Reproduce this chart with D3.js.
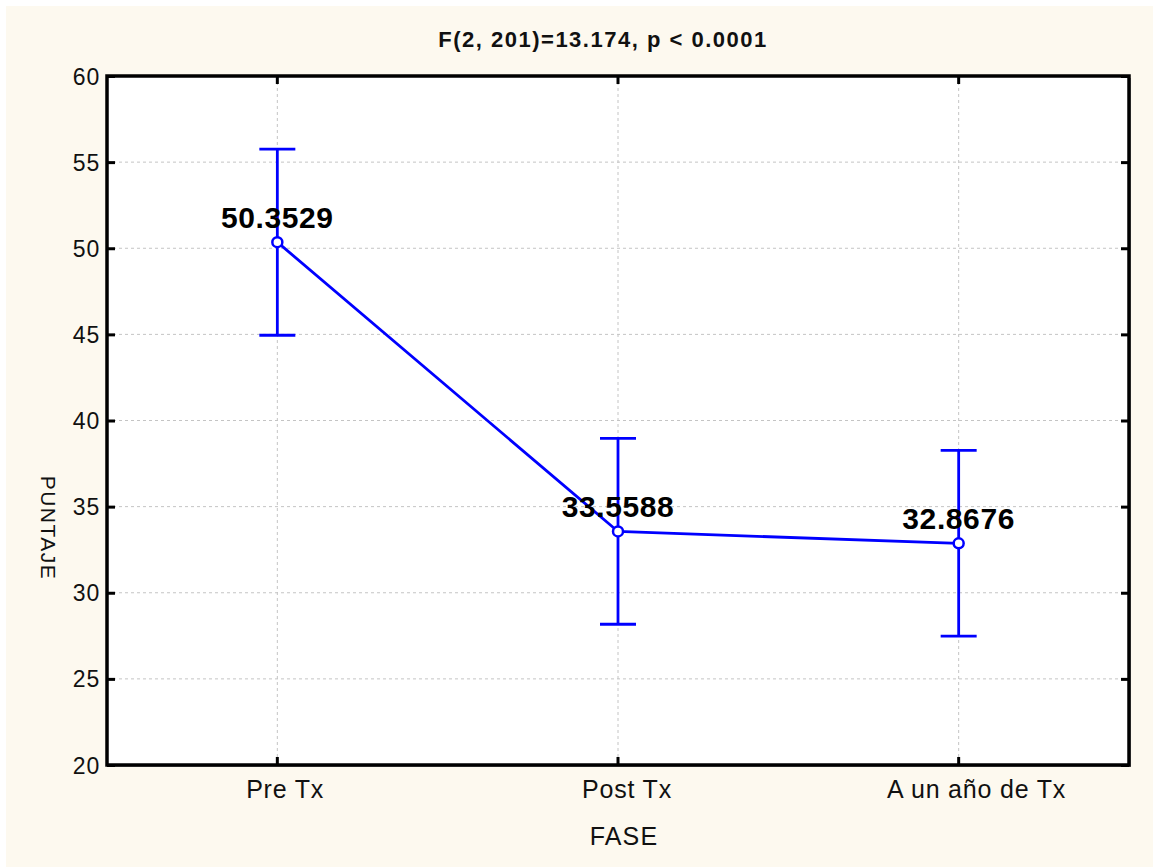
<!DOCTYPE html>
<html>
<head>
<meta charset="utf-8">
<script src="https://cdn.jsdelivr.net/npm/d3@7"></script>
<style>
  body { margin: 0; background: #fff; }
  text { font-family: Arial, "Liberation Sans", sans-serif; }
</style>
</head>
<body>
<div class="mainviz"></div>
<script>
var categories = ["Pre Tx", "Post Tx", "A un año de Tx"];
var means = [50.3529, 33.5588, 32.8676];
var upper = [55.76, 38.96, 38.27];
var lower = [44.95, 28.17, 27.48];
var yTicks = [20, 25, 30, 35, 40, 45, 50, 55, 60];
var title = "F(2, 201)=13.174, p < 0.0001";

var width = 1153, height = 867;
var margin = { top: 76, right: 24, bottom: 102, left: 107 };
var plotW = width - margin.left - margin.right,
	plotH = height - margin.top - margin.bottom;

var svg = d3.select(".mainviz").append("svg")
	.attr("width", width)
	.attr("height", height);

svg.append("rect")
	.attr("x", 6).attr("y", 6)
	.attr("width", width - 6).attr("height", height - 6)
	.attr("fill", "#fdf9ef");

var data = categories.map(function (c, i) {
	return { cat: c, mean: means[i], hi: upper[i], lo: lower[i] };
});

var x = d3.scaleBand()
	.domain(categories)
	.range([0, plotW]);

var y = d3.scaleLinear()
	.domain([20, 60])
	.range([plotH, 0]);

var g = svg.append("g")
	.attr("transform", "translate(" + margin.left + "," + margin.top + ")");

// shadow + plot background
g.append("rect")
	.attr("x", 2).attr("y", 2)
	.attr("width", plotW).attr("height", plotH)
	.attr("fill", "#9a9a9a");
g.append("rect")
	.attr("width", plotW).attr("height", plotH)
	.attr("fill", "#fff");

function cx(d) { return x(d.cat) + x.bandwidth() / 2; }

// grid lines
g.selectAll("line.hgrid")
	.data(yTicks.slice(1, -1))
	.enter().append("line")
	.attr("class", "hgrid")
	.attr("x1", 0).attr("x2", plotW)
	.attr("y1", function (d) { return y(d); })
	.attr("y2", function (d) { return y(d); })
	.attr("stroke", "#c4c4c4")
	.attr("stroke-dasharray", "3,3");

g.selectAll("line.vgrid")
	.data(data)
	.enter().append("line")
	.attr("class", "vgrid")
	.attr("x1", cx).attr("x2", cx)
	.attr("y1", 0).attr("y2", plotH)
	.attr("stroke", "#c4c4c4")
	.attr("stroke-dasharray", "3,3");

// axes, ticks pointing inward
var yAxisL = d3.axisLeft(y).tickValues(yTicks).tickSize(-8).tickPadding(7);
var yAxisR = d3.axisRight(y).tickValues(yTicks).tickSize(-8).tickFormat("");
var xAxisB = d3.axisBottom(x).tickSize(-8).tickPadding(15);
var xAxisT = d3.axisTop(x).tickSize(-8).tickFormat("");

function styleAxis(sel, fs) {
	sel.select(".domain").remove();
	sel.selectAll(".tick line").attr("stroke", "#000").attr("stroke-width", 3);
	sel.selectAll(".tick text")
		.attr("fill", "#111")
		.style("font-size", fs + "px")
		.style("letter-spacing", "0.8px");
}

g.append("g").call(yAxisL).call(styleAxis, 23);
g.append("g").attr("transform", "translate(" + plotW + ",0)").call(yAxisR).call(styleAxis, 23);
var xg = g.append("g").attr("transform", "translate(0," + plotH + ")").call(xAxisB).call(styleAxis, 25);
g.append("g").call(xAxisT).call(styleAxis, 25);

g.selectAll(".tick text").filter(function (d) { return typeof d === "number"; })
	.attr("dy", "0.35em");

// category labels sit a little right of their tick
xg.selectAll(".tick text")
	.attr("dx", function () { return this.getComputedTextLength() * 0.1; });

// frame
g.append("rect")
	.attr("width", plotW).attr("height", plotH)
	.attr("fill", "none")
	.attr("stroke", "#000")
	.attr("stroke-width", 3.5);

// error bars
var cap = 18;
var bars = g.selectAll("g.err")
	.data(data)
	.enter().append("g")
	.attr("class", "err")
	.attr("stroke", "#0000ff")
	.attr("stroke-width", 2.8);

bars.append("line")
	.attr("x1", cx).attr("x2", cx)
	.attr("y1", function (d) { return y(d.hi); })
	.attr("y2", function (d) { return y(d.lo); });
bars.append("line")
	.attr("x1", function (d) { return cx(d) - cap; })
	.attr("x2", function (d) { return cx(d) + cap; })
	.attr("y1", function (d) { return y(d.hi); })
	.attr("y2", function (d) { return y(d.hi); });
bars.append("line")
	.attr("x1", function (d) { return cx(d) - cap; })
	.attr("x2", function (d) { return cx(d) + cap; })
	.attr("y1", function (d) { return y(d.lo); })
	.attr("y2", function (d) { return y(d.lo); });

// mean line
var line = d3.line()
	.x(cx)
	.y(function (d) { return y(d.mean); });

g.append("path")
	.attr("d", line(data))
	.attr("fill", "none")
	.attr("stroke", "#0000ff")
	.attr("stroke-width", 2.8);

g.selectAll("circle.pt")
	.data(data)
	.enter().append("circle")
	.attr("class", "pt")
	.attr("cx", cx)
	.attr("cy", function (d) { return y(d.mean); })
	.attr("r", 5)
	.attr("fill", "#fff")
	.attr("stroke", "#0000ff")
	.attr("stroke-width", 2.5);

g.selectAll("text.val")
	.data(data)
	.enter().append("text")
	.attr("class", "val")
	.attr("x", cx)
	.attr("y", function (d) { return y(d.mean) - 14; })
	.attr("text-anchor", "middle")
	.style("font-size", "30px")
	.style("font-weight", "bold")
	.style("letter-spacing", "0.6px")
	.attr("fill", "#000")
	.text(function (d) { return d.mean.toFixed(4); });

// titles
svg.append("text")
	.attr("x", 603).attr("y", 47)
	.attr("text-anchor", "middle")
	.style("font-size", "22px")
	.style("font-weight", "bold")
	.style("letter-spacing", "1.5px")
	.attr("fill", "#111")
	.text(title);

svg.append("text")
	.attr("x", margin.left + plotW / 2 + 6).attr("y", 845)
	.attr("text-anchor", "middle")
	.style("font-size", "25px")
	.style("letter-spacing", "1.2px")
	.attr("fill", "#111")
	.text("FASE");

svg.append("text")
	.attr("transform", "translate(41,528) rotate(90)")
	.attr("text-anchor", "middle")
	.style("font-size", "21px")
	.style("letter-spacing", "1.5px")
	.attr("fill", "#111")
	.text("PUNTAJE");
</script>
</body>
</html>
